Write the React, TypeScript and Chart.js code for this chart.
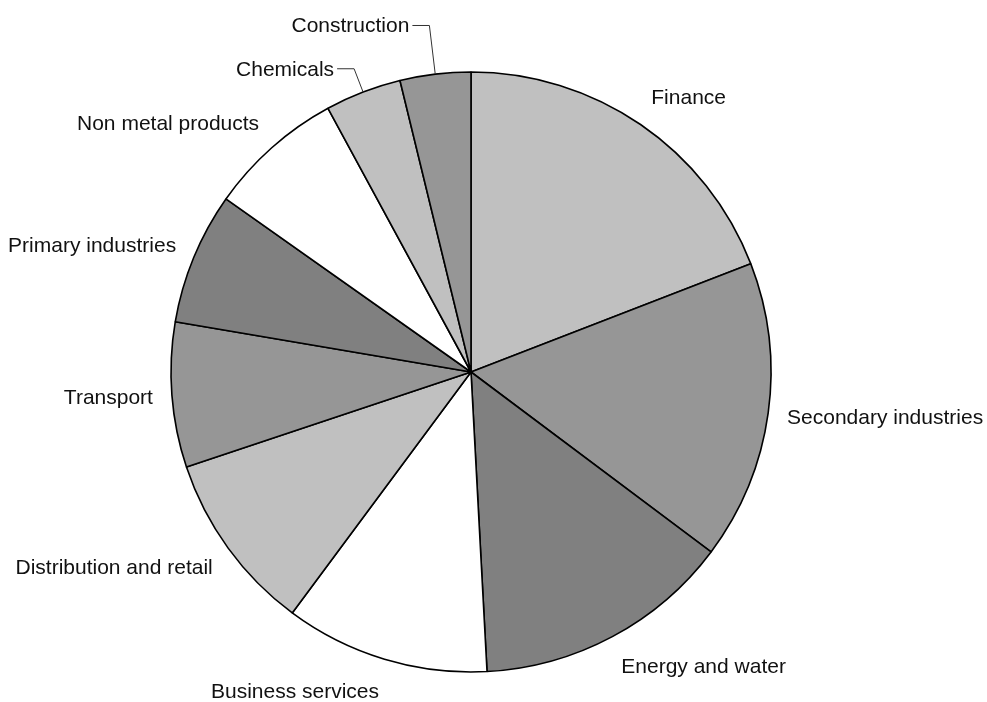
import React, { useEffect, useRef } from "react";
import { Chart, registerables } from "chart.js";

Chart.register(...registerables);

const categories = [
  "Finance",
  "Secondary industries",
  "Energy and water",
  "Business services",
  "Distribution and retail",
  "Transport",
  "Primary industries",
  "Non metal products",
  "Chemicals",
  "Construction",
];

const shares = [19.1, 16.1, 13.9, 11.0, 9.7, 7.8, 7.1, 7.3, 4.1, 3.8];

const sliceColors = [
  "#c0c0c0",
  "#969696",
  "#808080",
  "#ffffff",
  "#c0c0c0",
  "#969696",
  "#808080",
  "#ffffff",
  "#c0c0c0",
  "#969696",
];

// extra radial distance for labels that use a leader line (by slice index)
const leaderDistance: Record<number, number> = { 8: 25, 9: 49 };

const labelPlugin = {
  id: "outsideLabels",
  afterDraw(chart: any) {
    const ctx = chart.ctx;
    const meta = chart.getDatasetMeta(0);
    const labels = chart.data.labels as string[];
    ctx.save();
    ctx.font = '21px "Liberation Sans", Arial, sans-serif';
    ctx.fillStyle = "#111";
    ctx.textBaseline = "middle";
    meta.data.forEach((arc: any, i: number) => {
      const { x, y, startAngle, endAngle, outerRadius } = arc.getProps(
        ["x", "y", "startAngle", "endAngle", "outerRadius"],
        true
      );
      const mid = (startAngle + endAngle) / 2;
      const c = Math.cos(mid);
      const s = Math.sin(mid);
      const text = labels[i];
      if (leaderDistance[i] !== undefined) {
        const ex = x + c * outerRadius;
        const ey = y + s * outerRadius;
        const r2 = outerRadius + leaderDistance[i];
        const bx = x + c * r2;
        const by = y + s * r2;
        const dir = c >= 0 ? 1 : -1;
        ctx.strokeStyle = "#333";
        ctx.lineWidth = 1;
        ctx.beginPath();
        ctx.moveTo(ex, ey);
        ctx.lineTo(bx, by);
        ctx.lineTo(bx + dir * 17, by);
        ctx.stroke();
        ctx.textAlign = dir > 0 ? "left" : "right";
        ctx.fillText(text, bx + dir * 20, by + 1);
      } else {
        const r = outerRadius + 19;
        const ax = x + c * r;
        const ay = y + s * r;
        ctx.textAlign = c >= 0 ? "left" : "right";
        ctx.fillText(text, ax, ay + s * 14 + 1);
      }
    });
    ctx.restore();
  },
};

export default function App() {
  const canvasRef = useRef<HTMLCanvasElement | null>(null);

  useEffect(() => {
    if (!canvasRef.current) return;
    const chart = new Chart(canvasRef.current, {
      type: "pie",
      data: {
        labels: categories,
        datasets: [
          {
            data: shares,
            backgroundColor: sliceColors,
            borderColor: "#000",
            borderWidth: 1.6,
          },
        ],
      },
      options: {
        animation: false,
        responsive: false,
        radius: 300,
        layout: { padding: { left: 171, right: 216, top: 72, bottom: 30 } },
        plugins: {
          legend: { display: false },
          tooltip: { enabled: false },
        },
      },
      plugins: [labelPlugin],
    });
    return () => chart.destroy();
  }, []);

  return (
    <div
      style={{
        position: "fixed",
        left: 0,
        top: 0,
        width: 987,
        height: 702,
        background: "#fff",
      }}
    >
      <canvas ref={canvasRef} width={987} height={702} style={{ display: "block" }} />
    </div>
  );
}
